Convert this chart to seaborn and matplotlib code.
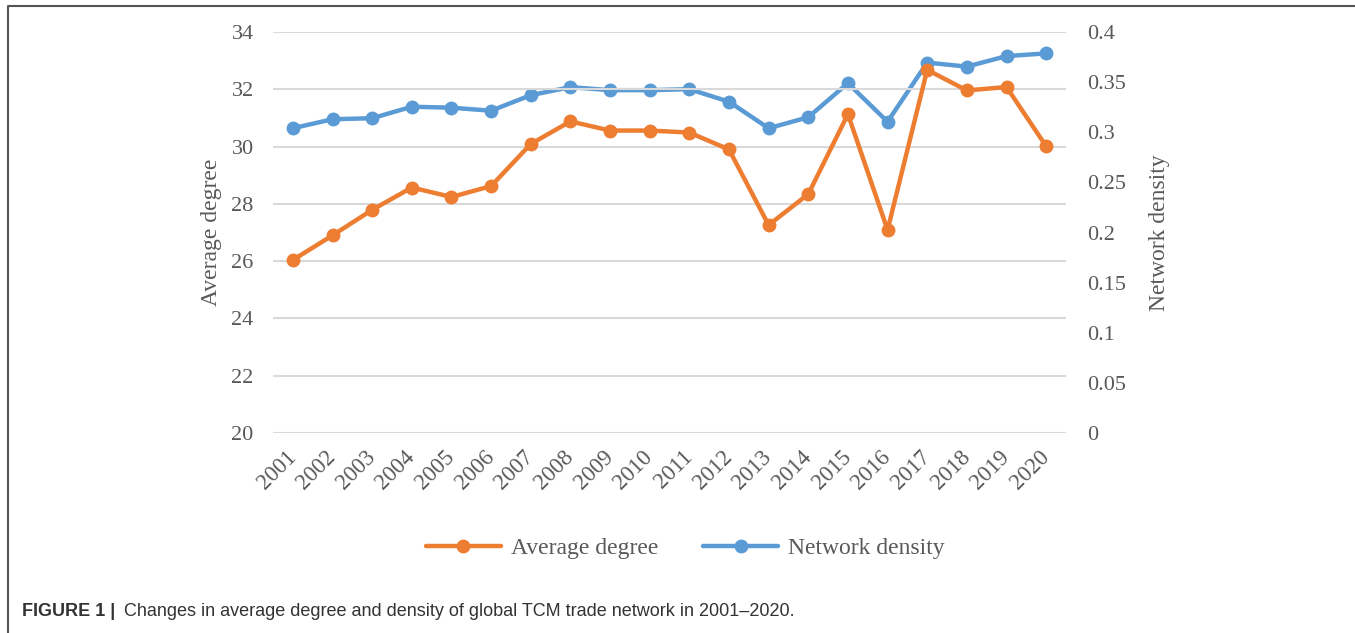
import pandas as pd
import matplotlib.pyplot as plt
import seaborn as sns
from matplotlib.lines import Line2D

# data
years = [str(y) for y in range(2001, 2021)]
avg_degree = [26.04, 26.90, 27.79, 28.57, 28.24, 28.62, 30.09, 30.88, 30.56, 30.56,
              30.49, 29.90, 27.26, 28.34, 31.13, 27.09, 32.68, 31.96, 32.08, 30.01]
net_density = [0.304, 0.313, 0.314, 0.3255, 0.3245, 0.3215, 0.337, 0.345, 0.342, 0.342,
               0.343, 0.3305, 0.304, 0.315, 0.349, 0.3105, 0.3695, 0.3655, 0.376, 0.3787]
left_ticks = [20, 22, 24, 26, 28, 30, 32, 34]
right_ticks = [0, 0.05, 0.1, 0.15, 0.2, 0.25, 0.3, 0.35, 0.4]
right_labels = ['0', '0.05', '0.1', '0.15', '0.2', '0.25', '0.3', '0.35', '0.4']

df = pd.DataFrame({'pos': range(len(years)), 'year': years,
                   'Average degree': avg_degree, 'Network density': net_density})

sns.set_style('white')
plt.rcParams['font.family'] = ['Liberation Serif', 'DejaVu Serif']

ORANGE = '#ED7D31'
BLUE = '#5B9BD5'
TXT = '#595959'
TICK_FS = 16
LABEL_FS = 17

fig = plt.figure(figsize=(13.55, 6.33), dpi=100)
ax = fig.add_axes([0.2015, 0.316, 0.5852, 0.6334])
ax2 = ax.twinx()

sns.lineplot(data=df, x='pos', y='Average degree', ax=ax, color=ORANGE,
             marker='o', markersize=10, markeredgewidth=0, linewidth=3.2,
             label='Average degree', legend=False, zorder=3)
sns.lineplot(data=df, x='pos', y='Network density', ax=ax2, color=BLUE,
             marker='o', markersize=10, markeredgewidth=0, linewidth=3.2,
             label='Network density', legend=False, zorder=3)

# put the orange series on top of the blue one
ax.set_zorder(ax2.get_zorder() + 1)
ax.patch.set_visible(False)

ax.set_xlim(-0.5, len(years) - 0.5)
ax.set_ylim(20, 34)
ax.set_yticks(left_ticks)
ax.set_yticklabels([str(t) for t in left_ticks])
ax2.set_ylim(0, 0.4)
ax2.set_yticks(right_ticks)
ax2.set_yticklabels(right_labels)

ax.set_xticks(range(len(years)))
ax.set_xticklabels(years, rotation=45, ha='right', va='center', rotation_mode='anchor')

ax.grid(axis='y', color='#D9D9D9', linewidth=1.5)
ax.grid(axis='x', visible=False)
ax2.grid(False)
for a in (ax, ax2):
    for s in a.spines.values():
        s.set_visible(False)

ax.tick_params(axis='y', length=0, pad=14, labelsize=TICK_FS, labelcolor=TXT)
ax.tick_params(axis='x', length=0, pad=15, labelsize=16.5, labelcolor=TXT)
ax2.tick_params(axis='y', length=0, pad=15, labelsize=TICK_FS, labelcolor=TXT)

ax.set_xlabel('')
ax.set_ylabel('Average degree', fontsize=LABEL_FS, color=TXT, labelpad=7)
ax2.set_ylabel('Network density', fontsize=LABEL_FS, color=TXT, labelpad=17)

handles = [Line2D([], [], color=ORANGE, marker='o', markersize=10, markeredgewidth=0, linewidth=3.2),
           Line2D([], [], color=BLUE, marker='o', markersize=10, markeredgewidth=0, linewidth=3.2)]
leg = fig.legend(handles, ['Average degree', 'Network density'], loc='center',
                 bbox_to_anchor=(0.5055, 0.134), ncol=2, frameon=False,
                 handlelength=3.2, columnspacing=1.9, handletextpad=0.4, fontsize=LABEL_FS)
for t in leg.get_texts():
    t.set_color(TXT)

# figure frame (left and top edges)
fig.add_artist(Line2D([8 / 1355, 8 / 1355, 1.0], [0.0, 1 - 6 / 633, 1 - 6 / 633],
                      transform=fig.transFigure, color='#555555', linewidth=1.5))

fig.text(22 / 1355, 1 - 612 / 633, 'FIGURE 1 |', fontsize=13, fontweight='bold',
         family='Liberation Sans', color='#333333', va='center', ha='left')
fig.text(124 / 1355, 1 - 612 / 633,
         'Changes in average degree and density of global TCM trade network in 2001\u20132020.',
         fontsize=13, family='Liberation Sans', color='#333333', va='center', ha='left')

fig.savefig('out.png', dpi=100)
